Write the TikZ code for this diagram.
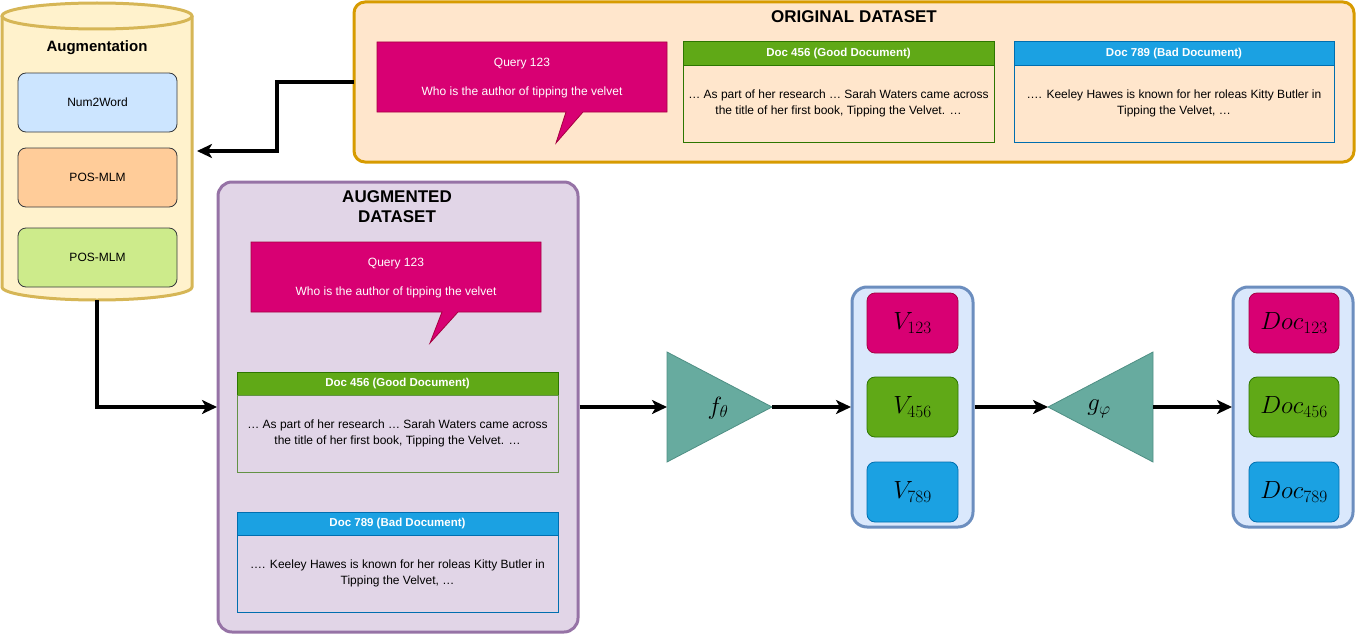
\documentclass[tikz,border=0pt]{standalone}
\usepackage[no-math]{fontspec}
\setmainfont{Liberation Sans}
\usetikzlibrary{arrows.meta,calc}
\definecolor{cylfill}{HTML}{FFF2CC}
\definecolor{cyldraw}{HTML}{D6B656}
\definecolor{bluelt}{HTML}{CCE5FF}
\definecolor{orangelt}{HTML}{FFCC99}
\definecolor{greenlt}{HTML}{CDEB8B}
\definecolor{darkgray}{HTML}{36393D}
\definecolor{origfill}{HTML}{FFE6CC}
\definecolor{origdraw}{HTML}{D79B00}
\definecolor{augfill}{HTML}{E1D5E7}
\definecolor{augdraw}{HTML}{9673A6}
\definecolor{pinkfill}{HTML}{D80073}
\definecolor{pinkdraw}{HTML}{A50040}
\definecolor{greenfill}{HTML}{60A917}
\definecolor{greendraw}{HTML}{2D7600}
\definecolor{bluefill}{HTML}{1BA1E2}
\definecolor{bluedraw}{HTML}{006EAF}
\definecolor{tealfill}{HTML}{67AB9F}
\definecolor{tealdraw}{HTML}{4F8F84}
\definecolor{vfill}{HTML}{DAE8FC}
\definecolor{vdraw}{HTML}{6C8EBF}
\begin{document}
\begin{tikzpicture}[x=1pt,y=-1pt,
  box/.style={inner sep=0pt, outer sep=0pt, anchor=north west},
  augitem/.style={box, draw=darkgray, line width=0.8pt, rounded corners=8pt, font=\fontsize{12}{14}\selectfont, minimum width=159pt, minimum height=59pt},
  container/.style={box, line width=3pt},
  hdr/.style={box, line width=1pt, text=white, font=\bfseries\fontsize{11.5}{13}\selectfont, minimum height=23pt},
  body/.style={box, line width=1pt, align=center, font=\fontsize{12}{15.5}\selectfont},
  qtext/.style={text=white, align=center, font=\fontsize{12}{14.5}\selectfont},
  title/.style={font=\bfseries\fontsize{17}{20}\selectfont, align=center},
  vitem/.style={box, line width=0.8pt, rounded corners=8pt, minimum width=91pt, minimum height=60pt, font=\fontsize{23}{26}\selectfont},
  tri/.style={fill=tealfill, draw=tealdraw, line width=0.8pt},
  mathlbl/.style={font=\fontsize{23}{26}\selectfont},
  conn/.style={line width=3.2pt, -{Stealth[length=15pt,width=14pt,inset=4pt]}}
]
\useasboundingbox (0,0) rectangle (1356,634);

% ---------- Augmentation cylinder ----------
\node[box, minimum width=190pt, minimum height=298pt] (cyl) at (2,2) {};
\fill[cylfill] (2,16) -- (2,287) arc[start angle=180,end angle=0,x radius=95,y radius=13]
  -- (192,16) arc[start angle=360,end angle=180,x radius=95,y radius=13] -- cycle;
\draw[cyldraw, line width=3pt] (2,16) -- (2,287) arc[start angle=180,end angle=0,x radius=95,y radius=13] -- (192,16);
\draw[cyldraw, line width=3pt] (97,16) ellipse[x radius=95,y radius=13];
\node[font=\bfseries\fontsize{15}{17}\selectfont] (auglbl) at (97,48) {Augmentation};
\node[augitem, fill=bluelt] (n2w) at (18,73) {Num2Word};
\node[augitem, fill=orangelt] (pos1) at (18,148) {POS-MLM};
\node[augitem, fill=greenlt] (pos2) at (18,228) {POS-MLM};

% ---------- Original dataset ----------
\node[container, fill=origfill, draw=origdraw, rounded corners=11pt, minimum width=1000pt, minimum height=160pt] (orig) at (354,2) {};
\node[title] (origtitle) at (854,17) {ORIGINAL DATASET};
\filldraw[fill=pinkfill, draw=pinkdraw, line width=0.8pt]
  (377,42) -- (667,42) -- (667,112) -- (583,112) -- (556,143) -- (566,112) -- (377,112) -- cycle;
\node[qtext] (oq) at (522,78.5) {Query 123\\[14.5pt]Who is the author of tipping the velvet};
\node[hdr, fill=greenfill, draw=greendraw, minimum width=311pt] (og) at (683,42) {Doc 456 (Good Document)};
\node[body, draw=greendraw, minimum width=311pt, minimum height=77pt] (ogb) at (683,65)
  {… As part of her research … Sarah Waters came across\\the title of her first book, Tipping the Velvet. …};
\node[hdr, fill=bluefill, draw=bluedraw, minimum width=320pt] (ob) at (1014,42) {Doc 789 (Bad Document)};
\node[body, draw=bluedraw, minimum width=320pt, minimum height=77pt] (obb) at (1014,65)
  {…. Keeley Hawes is known for her roleas Kitty Butler in\\Tipping the Velvet, …};

% ---------- Augmented dataset ----------
\node[container, fill=augfill, draw=augdraw, rounded corners=14pt, minimum width=360pt, minimum height=450pt] (aug) at (218,182) {};
\node[title] (augtitle) at (397,207) {AUGMENTED\\DATASET};
\filldraw[fill=pinkfill, draw=pinkdraw, line width=0.8pt]
  (251,242) -- (541,242) -- (541,312) -- (458,312) -- (430,343) -- (442,312) -- (251,312) -- cycle;
\node[qtext] (aq) at (396,278.5) {Query 123\\[14.5pt]Who is the author of tipping the velvet};
\node[hdr, fill=greenfill, draw=greendraw, minimum width=321pt] (ag) at (237,372) {Doc 456 (Good Document)};
\node[body, draw=greendraw!70!augfill, minimum width=321pt, minimum height=77pt] (agb) at (237,395)
  {… As part of her research … Sarah Waters came across\\the title of her first book, Tipping the Velvet. …};
\node[hdr, fill=bluefill, draw=bluedraw, minimum width=321pt] (ab) at (237,512) {Doc 789 (Bad Document)};
\node[body, draw=bluedraw, minimum width=321pt, minimum height=77pt] (abb) at (237,535)
  {…. Keeley Hawes is known for her roleas Kitty Butler in\\Tipping the Velvet, …};

% ---------- Encoder f ----------
\filldraw[tri] (667,352) -- (772,407) -- (667,462) -- cycle;
\coordinate (fin) at (667,407);
\coordinate (fout) at (772,407);
\node[mathlbl] (flbl) at (718,408) {$f_\theta$};

% ---------- Vector container ----------
\node[container, fill=vfill, draw=vdraw, rounded corners=15pt, minimum width=121pt, minimum height=240pt] (vbox) at (852,287) {};
\node[vitem, fill=pinkfill, draw=pinkdraw] (v1) at (867,293) {$V_{123}$};
\node[vitem, fill=greenfill, draw=greendraw] (v2) at (867,377) {$V_{456}$};
\node[vitem, fill=bluefill, draw=bluedraw] (v3) at (867,462) {$V_{789}$};

% ---------- Decoder g ----------
\filldraw[tri] (1153,352) -- (1048,407) -- (1153,462) -- cycle;
\coordinate (gin) at (1048,407);
\coordinate (gout) at (1153,407);
\node[mathlbl] (glbl) at (1099,409) {$g_\varphi$};

% ---------- Doc container ----------
\node[container, fill=vfill, draw=vdraw, rounded corners=15pt, minimum width=120pt, minimum height=240pt] (dbox) at (1233,287) {};
\node[vitem, fill=pinkfill, draw=pinkdraw, minimum width=90pt] (d1) at (1249,293) {$Doc_{123}$};
\node[vitem, fill=greenfill, draw=greendraw, minimum width=90pt] (d2) at (1249,377) {$Doc_{456}$};
\node[vitem, fill=bluefill, draw=bluedraw, minimum width=90pt] (d3) at (1249,462) {$Doc_{789}$};

% ---------- Connectors ----------
\draw[conn] (orig.west) -- ($(orig.west)+(-77,0)$) |- ([xshift=5pt]cyl.east);
\draw[conn] (cyl.south) |- ([xshift=-1pt]aug.west);
\draw[conn] ([xshift=1.5pt]aug.east) -- (fin);
\draw[conn] (fout) -- ([xshift=-1pt]vbox.west);
\draw[conn] ([xshift=1.5pt]vbox.east) -- (gin);
\draw[conn] (gout) -- ([xshift=-1pt]dbox.west);
\end{tikzpicture}
\end{document}
